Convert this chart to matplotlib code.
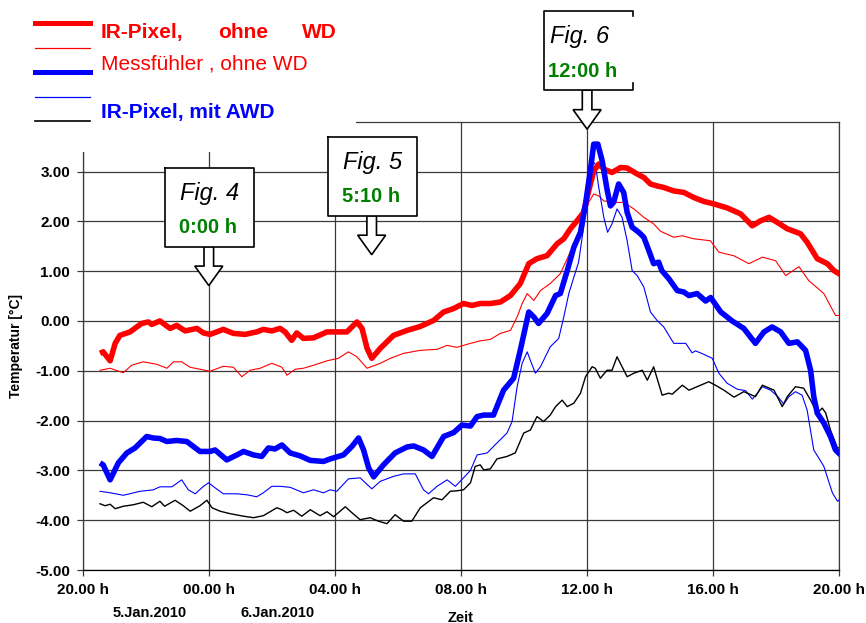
"""Temperaturverlauf 5./6. Jan 2010 - IR-Pixel vs. Messfuehler, mit/ohne WD."""
import matplotlib; matplotlib.use("Agg")
import matplotlib.pyplot as plt
from matplotlib.lines import Line2D
from matplotlib.patches import Polygon, Rectangle

plt.rcParams["font.family"] = ["Liberation Sans", "DejaVu Sans"]

# --- data: hours after 20:00 h on 5.Jan.2010, temperature in degC ---
h_ir_ohne = [0.55, 0.65, 0.87, 1.03, 1.18, 1.50, 1.87, 2.08, 2.19, 2.45, 2.77, 2.98, 3.25, 3.62, 3.83,
             4.04, 4.46, 4.78, 5.15, 5.52, 5.73, 6.00, 6.26, 6.42, 6.63, 6.79, 7.00, 7.32, 7.75, 8.01,
             8.38, 8.70, 8.86, 9.02, 9.17, 9.44, 9.86, 10.29, 10.71, 11.13, 11.45, 11.77, 12.08, 12.35,
             12.61, 12.93, 13.25, 13.57, 13.88, 14.15, 14.41, 14.73, 15.05, 15.26, 15.47, 15.68, 15.89,
             16.05, 16.21, 16.37, 16.53, 16.79, 17.06, 17.27, 17.59, 17.80, 18.01, 18.22, 18.43, 18.75,
             19.07, 19.38, 19.70, 20.02, 20.44, 20.87, 21.24, 21.50, 21.77, 22.03, 22.35, 22.77, 22.98,
             23.30, 23.62, 23.83, 24.04]
t_ir_ohne = [-0.65, -0.62, -0.80, -0.45, -0.29, -0.22, -0.05, -0.02, -0.07, 0.00, -0.15, -0.09, -0.20, -0.15, -0.24,
             -0.27, -0.17, -0.25, -0.27, -0.22, -0.17, -0.20, -0.15, -0.22, -0.39, -0.24, -0.35, -0.34, -0.22, -0.22,
             -0.22, -0.02, -0.15, -0.55, -0.75, -0.55, -0.29, -0.19, -0.11, 0.01, 0.18, 0.25, 0.35, 0.31,
             0.35, 0.35, 0.38, 0.51, 0.75, 1.15, 1.25, 1.31, 1.55, 1.65, 1.85, 2.01, 2.18,
             2.61, 3.01, 3.15, 3.05, 2.98, 3.08, 3.07, 2.95, 2.88, 2.75, 2.71, 2.68, 2.61,
             2.58, 2.48, 2.40, 2.35, 2.27, 2.15, 1.91, 2.01, 2.08, 1.98, 1.85, 1.75, 1.58,
             1.25, 1.15, 1.01, 0.93]

h_mess = [0.55, 0.87, 1.29, 1.55, 1.92, 2.35, 2.67, 2.88, 3.14, 3.41, 3.72, 4.04, 4.46, 4.78, 5.05,
          5.31, 5.63, 6.00, 6.32, 6.48, 6.74, 7.00, 7.32, 7.75, 8.11, 8.43, 8.70, 9.02, 9.44, 9.76,
          10.18, 10.71, 11.24, 11.56, 11.87, 12.30, 12.61, 12.93, 13.25, 13.57, 13.78, 13.94, 14.10,
          14.31, 14.52, 14.83, 15.15, 15.37, 15.58, 15.89, 16.05, 16.21, 16.37, 16.53, 16.84, 17.16,
          17.48, 17.80, 18.11, 18.33, 18.75, 19.02, 19.38, 19.91, 20.18, 20.65, 21.13, 21.56, 21.98,
          22.30, 22.72, 23.03, 23.51, 23.88, 24.04]
t_mess = [-0.99, -0.95, -1.04, -0.89, -0.82, -0.87, -0.95, -0.82, -0.82, -0.93, -0.97, -1.01, -0.91, -0.93, -1.12,
          -0.99, -0.95, -0.85, -0.93, -1.09, -0.97, -0.95, -0.89, -0.80, -0.75, -0.62, -0.72, -0.95, -0.85, -0.75,
          -0.65, -0.59, -0.57, -0.49, -0.53, -0.45, -0.40, -0.37, -0.25, -0.19, 0.08, 0.35, 0.55,
          0.41, 0.61, 0.75, 0.95, 1.25, 1.55, 2.01, 2.38, 2.55, 2.51, 2.41, 2.38, 2.38,
          2.25, 2.08, 1.95, 1.80, 1.68, 1.71, 1.65, 1.61, 1.38, 1.31, 1.15, 1.28, 1.21,
          0.91, 1.09, 0.81, 0.55, 0.11, 0.11]

h_ir_mit = [0.55, 0.65, 0.87, 1.13, 1.40, 1.66, 2.03, 2.24, 2.45, 2.67, 2.98, 3.30, 3.72, 4.04, 4.20,
            4.57, 4.89, 5.10, 5.42, 5.68, 5.89, 6.10, 6.32, 6.58, 6.90, 7.22, 7.64, 7.85, 8.27, 8.54,
            8.75, 8.91, 9.07, 9.23, 9.54, 9.91, 10.29, 10.50, 10.81, 11.08, 11.45, 11.77, 12.03, 12.30,
            12.51, 12.72, 13.03, 13.35, 13.67, 13.88, 14.15, 14.31, 14.46, 14.73, 15.00, 15.15, 15.37,
            15.58, 15.79, 15.95, 16.10, 16.21, 16.34, 16.48, 16.63, 16.74, 16.84, 17.00, 17.16, 17.27,
            17.43, 17.64, 17.80, 17.96, 18.11, 18.27, 18.37, 18.59, 18.86, 19.07, 19.23, 19.49, 19.76,
            19.92, 20.24, 20.60, 20.97, 21.34, 21.61, 21.87, 22.14, 22.40, 22.67, 22.93, 23.09, 23.19,
            23.30, 23.51, 23.72, 23.88, 24.04]
t_ir_mit = [-2.85, -2.89, -3.19, -2.85, -2.65, -2.55, -2.32, -2.35, -2.36, -2.42, -2.40, -2.42, -2.62, -2.62, -2.59,
            -2.79, -2.69, -2.62, -2.69, -2.72, -2.55, -2.57, -2.49, -2.65, -2.71, -2.80, -2.82, -2.77, -2.69, -2.52,
            -2.35, -2.59, -2.95, -3.13, -2.89, -2.65, -2.53, -2.51, -2.59, -2.72, -2.32, -2.24, -2.09, -2.11,
            -1.92, -1.89, -1.89, -1.39, -1.15, -0.59, 0.18, 0.08, -0.05, 0.15, 0.51, 0.55, 1.01,
            1.48, 1.78, 2.35, 3.01, 3.55, 3.55, 3.21, 2.65, 2.31, 2.38, 2.75, 2.58, 2.18,
            1.88, 1.78, 1.68, 1.41, 1.15, 1.18, 1.01, 0.85, 0.61, 0.58, 0.51, 0.55, 0.40,
            0.47, 0.18, 0.00, -0.15, -0.45, -0.22, -0.12, -0.22, -0.45, -0.42, -0.59, -0.99, -1.52,
            -1.85, -2.05, -2.32, -2.59, -2.69]

h_mess_mit = [0.55, 0.87, 1.29, 1.82, 2.24, 2.45, 2.83, 3.14, 3.35, 3.57, 3.83, 3.99, 4.20, 4.46, 4.89,
              5.21, 5.52, 5.73, 6.00, 6.26, 6.58, 7.00, 7.32, 7.64, 7.85, 8.06, 8.43, 8.80, 9.17, 9.44,
              9.86, 10.18, 10.55, 10.81, 10.97, 11.24, 11.56, 11.82, 12.08, 12.30, 12.51, 12.83, 13.14,
              13.46, 13.62, 13.78, 13.94, 14.10, 14.20, 14.36, 14.52, 14.83, 15.10, 15.26, 15.42, 15.58,
              15.73, 15.89, 16.05, 16.16, 16.26, 16.37, 16.53, 16.65, 16.79, 16.95, 17.11, 17.27, 17.43,
              17.59, 17.80, 18.01, 18.22, 18.43, 18.75, 19.13, 19.33, 19.44, 19.70, 19.97, 20.18, 20.44,
              20.76, 21.03, 21.24, 21.40, 21.56, 21.82, 22.05, 22.24, 22.40, 22.61, 22.82, 22.98, 23.19,
              23.51, 23.78, 23.94, 24.04]
t_mess_mit = [-3.42, -3.45, -3.50, -3.42, -3.39, -3.33, -3.33, -3.19, -3.39, -3.47, -3.32, -3.25, -3.35, -3.47, -3.47,
              -3.49, -3.53, -3.45, -3.32, -3.32, -3.34, -3.45, -3.39, -3.45, -3.39, -3.42, -3.17, -3.15, -3.37, -3.22,
              -3.12, -3.07, -3.07, -3.39, -3.47, -3.32, -3.19, -3.32, -3.15, -3.00, -2.69, -2.65, -2.45,
              -2.25, -2.02, -1.32, -0.85, -0.62, -0.79, -1.05, -0.92, -0.52, -0.35, 0.08, 0.55, 0.88,
              1.18, 1.88, 2.68, 3.21, 3.15, 2.68, 2.08, 1.78, 1.95, 2.25, 2.08, 1.61, 1.01,
              0.91, 0.68, 0.18, 0.01, -0.12, -0.45, -0.45, -0.64, -0.60, -0.67, -0.75, -1.05, -1.25,
              -1.37, -1.40, -1.57, -1.45, -1.32, -1.39, -1.52, -1.67, -1.52, -1.42, -1.49, -1.79, -2.59,
              -2.92, -3.45, -3.62, -3.57]

h_luft = [0.55, 0.71, 0.87, 1.03, 1.29, 1.61, 1.92, 2.19, 2.45, 2.60, 2.93, 3.19, 3.41, 3.72, 3.94,
          4.10, 4.36, 4.68, 5.10, 5.42, 5.73, 6.16, 6.32, 6.48, 6.69, 6.95, 7.22, 7.53, 7.75, 7.96,
          8.33, 8.54, 8.80, 9.12, 9.38, 9.65, 9.91, 10.18, 10.44, 10.71, 11.13, 11.40, 11.66, 11.87,
          12.08, 12.30, 12.45, 12.61, 12.72, 12.93, 13.14, 13.46, 13.72, 13.99, 14.20, 14.41, 14.62,
          14.83, 15.00, 15.21, 15.37, 15.58, 15.79, 15.95, 16.16, 16.26, 16.42, 16.63, 16.79, 16.95,
          17.27, 17.48, 17.75, 17.91, 18.11, 18.38, 18.59, 18.70, 19.02, 19.23, 19.49, 19.86, 20.07,
          20.34, 20.66, 20.97, 21.34, 21.56, 21.93, 22.19, 22.35, 22.61, 22.87, 23.09, 23.30, 23.46,
          23.57, 23.72, 23.94, 24.04]
t_luft = [-3.67, -3.71, -3.68, -3.77, -3.72, -3.69, -3.64, -3.73, -3.62, -3.72, -3.60, -3.71, -3.82, -3.71, -3.60,
          -3.75, -3.82, -3.87, -3.92, -3.95, -3.91, -3.75, -3.79, -3.85, -3.80, -3.92, -3.79, -3.91, -3.83, -3.93,
          -3.73, -3.85, -3.99, -3.95, -4.02, -4.07, -3.89, -4.02, -4.02, -3.75, -3.55, -3.59, -3.42, -3.41,
          -3.39, -3.25, -2.92, -2.89, -2.99, -2.97, -2.77, -2.72, -2.65, -2.25, -2.19, -1.92, -2.02,
          -1.89, -1.72, -1.59, -1.72, -1.65, -1.45, -1.12, -0.92, -0.95, -1.15, -0.99, -0.99, -0.72,
          -1.12, -1.05, -0.99, -1.19, -0.92, -1.49, -1.45, -1.47, -1.29, -1.39, -1.32, -1.22, -1.29,
          -1.39, -1.53, -1.42, -1.52, -1.29, -1.39, -1.72, -1.52, -1.32, -1.35, -1.59, -1.85, -1.75,
          -1.85, -2.19, -2.55, -2.55]

x_ticks = [0, 4, 8, 12, 16, 20, 24]
x_labels = ["20.00 h", "00.00 h", "04.00 h", "08.00 h", "12.00 h", "16.00 h", "20.00 h"]
y_ticks = [-5, -4, -3, -2, -1, 0, 1, 2, 3]

# snapshot markers: (title, time text, hour, tip temperature)
snap_fig = ["Fig. 4", "Fig. 5", "Fig. 6"]
snap_time = ["0:00 h", "5:10 h", "12:00 h"]
snap_hour = [4.0, 9.1667, 16.0]
snap_tip = [0.71, 1.33, 3.85]

W, H = 866, 623
GREEN = "#008000"
GRID = "#3a3a3a"


def fp(x, y):
    """pixel (from top-left) -> figure fraction"""
    return x / W, 1 - y / H


fig = plt.figure(figsize=(W / 100, H / 100), dpi=100)
l, b = fp(82.7, 570)
ax = fig.add_axes([l, b, (839.3 - 82.7) / W, (570 - 121.7) / H])

ax.plot(h_ir_ohne, t_ir_ohne, color="#ff0000", lw=4.0, solid_capstyle="butt", zorder=4)
ax.plot(h_mess, t_mess, color="#ff0000", lw=0.8, zorder=3)
ax.plot(h_ir_mit, t_ir_mit, color="#0000ff", lw=4.0, solid_capstyle="butt", zorder=4)
ax.plot(h_mess_mit, t_mess_mit, color="#0000ff", lw=0.8, zorder=3)
ax.plot(h_luft, t_luft, color="black", lw=1.0, zorder=3)

ax.set_xlim(0, 24)
ax.set_ylim(-5, 4)
ax.set_xticks(x_ticks)
ax.set_xticklabels(x_labels)
ax.set_yticks(y_ticks)
ax.set_yticklabels([f"{v:.2f}" for v in y_ticks])
ax.grid(True, color=GRID, lw=0.9)
ax.set_axisbelow(True)
for s in ax.spines.values():
    s.set_color(GRID); s.set_linewidth(0.9)
ax.spines["bottom"].set_color("black")
ax.tick_params(axis="both", direction="out", length=4, width=0.9, color=GRID, labelsize=11, pad=5)
for t in ax.get_xticklabels() + ax.get_yticklabels():
    t.set_fontweight("bold")

ax.set_xlabel("Zeit", fontsize=10.5, fontweight="bold")
ax.xaxis.set_label_coords(0.5, (570 - 610.5) / 448.3)
ax.set_ylabel("Temperatur [°C]", fontsize=10, fontweight="bold")
ax.yaxis.set_label_coords((22.5 - 82.7) / 756.6, 0.5)

fig.text(*fp(150, 613), "5.Jan.2010", ha="center", va="center", fontsize=10.5, fontweight="bold")
fig.text(*fp(278, 613), "6.Jan.2010", ha="center", va="center", fontsize=10.5, fontweight="bold")

# white block behind the legend (hides the upper-left corner of the frame)
fig.add_artist(Rectangle(fp(0, 152), 356 / W, 152 / H, transform=fig.transFigure,
                         facecolor="white", edgecolor="none", zorder=1))

# hand-made legend
leg_lines = [(23.3, "#ff0000", 3.6), (48, "#ff0000", 0.9), (72, "#0000ff", 3.6),
             (97, "#0000ff", 0.9), (121, "black", 1.2)]
for y, c, lw in leg_lines:
    x0, yy = fp(35, y); x1, _ = fp(90, y)
    fig.add_artist(Line2D([x0, x1], [yy, yy], color=c, lw=lw, transform=fig.transFigure, zorder=2))
for x, s in [(101, "IR-Pixel,"), (218, "ohne"), (302, "WD")]:
    fig.text(*fp(x, 38.3), s, color="#ff0000", fontsize=15, fontweight="bold", va="baseline")
fig.text(*fp(101, 70), "Messfühler , ohne WD", color="#ff0000", fontsize=15, va="baseline")
fig.text(*fp(101, 118.3), "IR-Pixel, mit AWD", color="#0000ff", fontsize=15, fontweight="bold", va="baseline")

# callout boxes with down arrows
fig.canvas.draw()
for i, (title, tm, hr, tt) in enumerate(zip(snap_fig, snap_time, snap_hour, snap_tip)):
    tx, ty = ax.transData.transform((hr, tt))
    ty = H - ty  # to top-left pixel coords
    bl, br, bt, bb = tx - 43.5, tx + 45.5, ty - 118, ty - 39
    arrow = [(tx - 4.8, bb), (tx + 4.8, bb), (tx + 4.8, ty - 19.5), (tx + 14, ty - 19.5),
             (tx, ty), (tx - 14, ty - 19.5), (tx - 4.8, ty - 19.5), (tx - 4.8, bb)]
    fig.add_artist(Polygon([fp(*p) for p in arrow], closed=True, transform=fig.transFigure,
                           facecolor="white", edgecolor="black", lw=1.2, zorder=5))
    box = Polygon([fp(bl, bt), fp(br, bt), fp(br, bb), fp(bl, bb)], closed=True,
                  transform=fig.transFigure, facecolor="white", edgecolor="none", zorder=6)
    fig.add_artist(box)
    if i == 2:
        # right edge of the last box is only hinted at the corners
        edge = [[(br, bt + 5), (br, bt), (bl, bt), (bl, bb), (br, bb), (br, bb - 7)]]
    else:
        edge = [[(bl, bt), (br, bt), (br, bb), (bl, bb), (bl, bt)]]
    for seg in edge:
        xs, ys = zip(*[fp(*p) for p in seg])
        fig.add_artist(Line2D(xs, ys, color="black", lw=1.2, transform=fig.transFigure, zorder=7))
    if i == 2:
        fig.text(*fp(bl + 6.5, ty - 86), title, fontsize=17, style="italic", va="baseline", zorder=8)
        fig.text(*fp(bl + 4, ty - 52.5), tm, fontsize=14.5, color=GREEN, fontweight="bold",
                 va="baseline", zorder=8)
    else:
        fig.text(*fp(tx + 1, ty - 86), title, fontsize=17, style="italic", ha="center",
                 va="baseline", zorder=8)
        fig.text(*fp(tx - 1, ty - 53), tm, fontsize=14.5, color=GREEN, fontweight="bold",
                 ha="center", va="baseline", zorder=8)

fig.savefig("out.png", dpi=100)
